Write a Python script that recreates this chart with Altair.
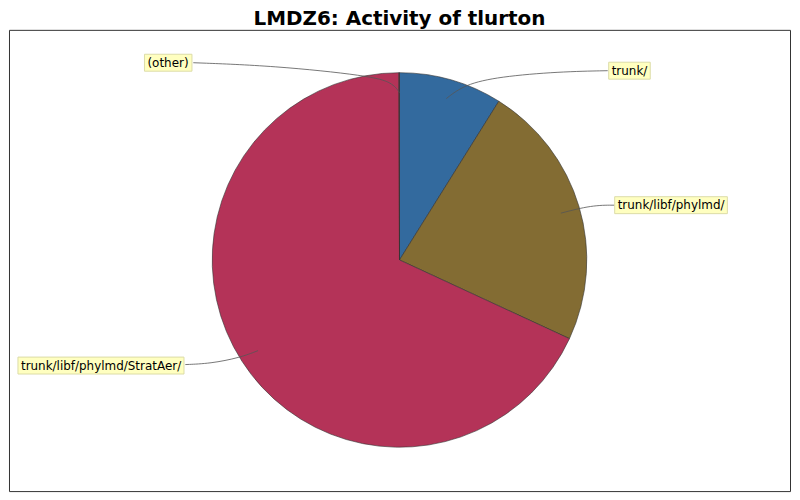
import altair as alt
import pandas as pd

# ---- data ----
categories = ["trunk/", "trunk/libf/phylmd/", "trunk/libf/phylmd/StratAer/", "(other)"]
shares = [8.9, 23.0, 68.05, 0.05]
colors = ["#336a9e", "#836c33", "#b43358", "#7a3050"]

# ---- label layout (view pixels) ----
label_left = [605, 611, 12, 139]
label_cy = [41, 176, 337, 33]
leader_x = [
    [439, 457, 492, 552, 601],
    [554, 585, 608],
    [250, 232, 202, 177],
    [185, 265, 362, 385, 392],
]
leader_y = [
    [69, 55, 47, 42, 41],
    [184, 176, 176],
    [322, 329, 335, 336],
    [33, 36, 46, 53, 63],
]

W, H = 784, 463
CX, CY, R = 392, 231, 188
CHAR_W = 5.95

pie_df = pd.DataFrame({"cat": categories, "share": shares, "idx": list(range(len(categories)))})

lab_df = pd.DataFrame({
    "cat": categories,
    "tx": label_left,
    "cy": label_cy,
})
lab_df["x1"] = lab_df["tx"] - 3
lab_df["x2"] = lab_df["tx"] + lab_df["cat"].str.len() * CHAR_W + 3
lab_df["y1"] = lab_df["cy"] - 8.5
lab_df["y2"] = lab_df["cy"] + 8.5

rows = []
for c, xs_, ys_ in zip(categories, leader_x, leader_y):
    for i, (xx, yy) in enumerate(zip(xs_, ys_)):
        rows.append({"cat": c, "x": xx, "y": yy, "o": i})
line_df = pd.DataFrame(rows)

xs = alt.Scale(domain=[0, W], nice=False, zero=False)
ys = alt.Scale(domain=[0, H], nice=False, zero=False, reverse=True)

pie = alt.Chart(pie_df).mark_arc(outerRadius=R, stroke="#333333", strokeWidth=0.6).encode(
    theta=alt.Theta("share:Q", stack=True),
    order=alt.Order("idx:Q"),
    color=alt.Color("cat:N", scale=alt.Scale(domain=categories, range=colors), legend=None),
    x=alt.value(CX),
    y=alt.value(CY),
)

lines = alt.Chart(line_df).mark_line(color="#555555", strokeWidth=0.8, interpolate="basis").encode(
    x=alt.X("x:Q", scale=xs, axis=None),
    y=alt.Y("y:Q", scale=ys, axis=None),
    detail="cat:N",
    order="o:Q",
)

boxes = alt.Chart(lab_df).mark_rect(fill="#ffffc0", stroke="#dcdca8", strokeWidth=1).encode(
    x=alt.X("x1:Q", scale=xs, axis=None),
    x2="x2:Q",
    y=alt.Y("y1:Q", scale=ys, axis=None),
    y2="y2:Q",
)

texts = alt.Chart(lab_df).mark_text(
    align="left", baseline="middle", font="DejaVu Sans", fontSize=12, color="#000000"
).encode(
    x=alt.X("tx:Q", scale=xs, axis=None),
    y=alt.Y("cy:Q", scale=ys, axis=None),
    text="cat:N",
)

chart = alt.layer(pie, lines, boxes, texts).properties(
    width=W,
    height=H,
    title=alt.TitleParams(
        "LMDZ6: Activity of tlurton",
        font="DejaVu Sans",
        fontSize=20,
        fontWeight="bold",
        color="#000000",
        anchor="middle",
        offset=1,
    ),
    autosize=alt.AutoSizeParams(type="none"),
    padding={"left": 1, "top": 21, "right": 2, "bottom": 2},
).configure_view(stroke="#333333", strokeWidth=1)

chart.save("out.html", embed_options={"renderer": "svg", "actions": False})
